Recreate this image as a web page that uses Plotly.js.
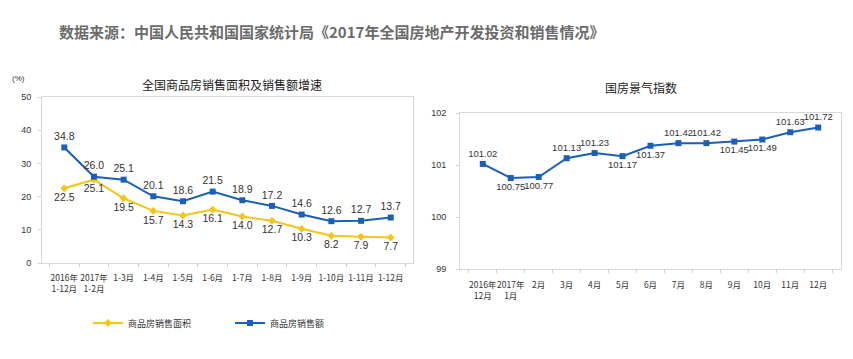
<!DOCTYPE html>
<html><head><meta charset="utf-8">
<script src="https://cdn.plot.ly/plotly-3.0.1.min.js"></script>
<style>html,body{margin:0;padding:0;background:#fff;}#c{width:853px;height:359px;}</style>
</head><body><div id="c"></div>
<script>
const leftCats = ["2016年<br>1-12月","2017年<br>1-2月","1-3月","1-4月","1-5月","1-6月","1-7月","1-8月","1-9月","1-10月","1-11月","1-12月"];
const areaGrowth = [22.5,25.1,19.5,15.7,14.3,16.1,14.0,12.7,10.3,8.2,7.9,7.7];
const salesGrowth = [34.8,26.0,25.1,20.1,18.6,21.5,18.9,17.2,14.6,12.6,12.7,13.7];
const rightCats = ["2016年<br>12月","2017年<br>1月","2月","3月","4月","5月","6月","7月","8月","9月","10月","11月","12月"];
const climateIndex = [101.02,100.75,100.77,101.13,101.23,101.17,101.37,101.42,101.42,101.45,101.49,101.63,101.72];
const leftYTicks = [0,10,20,30,40,50];
const rightYTicks = [99,100,101,102];

const W=853,H=359;
const font = "Liberation Sans, Arial, Noto Sans CJK SC, sans-serif";
const cjk = "Noto Sans CJK SC, sans-serif";
const blue = "#1a5fb8", yellow = "#f5c518";
const fmt1 = v => v.toFixed(1);
const fmt2 = v => v.toFixed(2);
const rightPos = ["top center","bottom center","bottom center","top center","top center","bottom center","bottom center","top center","top center","bottom center","bottom center","top center","top center"];

const traces = [
 {x:leftCats,y:areaGrowth,type:"scatter",mode:"lines+markers+text",name:"商品房销售面积",
  line:{color:yellow,width:2},marker:{symbol:"diamond",size:6,color:yellow},
  text:areaGrowth.map(fmt1),textposition:"bottom center",textfont:{family:font,size:10.5,color:"#333"},
  xaxis:"x",yaxis:"y",cliponaxis:false},
 {x:leftCats,y:salesGrowth,type:"scatter",mode:"lines+markers+text",name:"商品房销售额",
  line:{color:blue,width:2},marker:{symbol:"square",size:6,color:blue},
  text:salesGrowth.map(fmt1),textposition:"top center",textfont:{family:font,size:10.5,color:"#333"},
  xaxis:"x",yaxis:"y",cliponaxis:false},
 {x:rightCats,y:climateIndex,type:"scatter",mode:"lines+markers+text",name:"国房景气指数",showlegend:false,
  line:{color:blue,width:2},marker:{symbol:"square",size:6,color:blue},
  text:climateIndex.map(fmt2),textposition:rightPos,textfont:{family:font,size:9.5,color:"#333"},
  xaxis:"x2",yaxis:"y2",cliponaxis:false}
];

const axX = {type:"category",showgrid:false,showline:true,linecolor:"#d9d9d9",mirror:true,
  ticks:"outside",tickson:"boundaries",ticklen:3,tickcolor:"#d0d0d0",ticklabelstandoff:7,
  tickfont:{family:cjk,size:8.5,color:"#333"},tickangle:0,fixedrange:true};
const axY = {showgrid:false,showline:true,linecolor:"#d9d9d9",mirror:true,ticks:"outside",ticklen:3,tickcolor:"#d0d0d0",
  tickfont:{family:font,size:9,color:"#333"},zeroline:false,fixedrange:true};

const layout = {
 width:W,height:H,margin:{l:0,r:0,t:0,b:0},paper_bgcolor:"#fff",plot_bgcolor:"#fff",
 showlegend:true,
 legend:{orientation:"h",x:88/W,xanchor:"left",y:1-323/H,yanchor:"middle",entrywidth:97,
   font:{family:cjk,size:9,color:"#333"},bgcolor:"rgba(0,0,0,0)"},
 xaxis:Object.assign({},axX,{domain:[42/W,413/W],anchor:"y"}),
 yaxis:Object.assign({},axY,{domain:[1-263/H,1-97/H],range:[0,50],tickvals:leftYTicks,anchor:"x",ticklabelstandoff:5}),
 xaxis2:Object.assign({},axX,{domain:[460/W,841/W],anchor:"y2",ticklabelstandoff:8}),
 yaxis2:Object.assign({},axY,{domain:[1-269/H,1-113/H],range:[99,102],tickvals:rightYTicks,anchor:"x2",ticklabelstandoff:8}),
 annotations:[
  {text:"<b>数据来源：中国人民共和国国家统计局《2017年全国房地产开发投资和销售情况》</b>",xref:"paper",yref:"paper",
   x:57/W,y:1-32/H,xanchor:"left",yanchor:"middle",showarrow:false,font:{family:cjk,size:15,color:"#6b6b6b"}},
  {text:"全国商品房销售面积及销售额增速",xref:"paper",yref:"paper",x:232/W,y:1-85/H,xanchor:"center",yanchor:"middle",
   showarrow:false,font:{family:cjk,size:12,color:"#222"}},
  {text:"(%)",xref:"paper",yref:"paper",x:18/W,y:1-78/H,xanchor:"center",yanchor:"middle",
   showarrow:false,font:{family:font,size:8,color:"#333"}},
  {text:"国房景气指数",xref:"paper",yref:"paper",x:641/W,y:1-88/H,xanchor:"center",yanchor:"middle",
   showarrow:false,font:{family:cjk,size:12,color:"#222"}}
 ]
};
Plotly.newPlot("c",traces,layout,{displayModeBar:false,staticPlot:true});
</script></body></html>
